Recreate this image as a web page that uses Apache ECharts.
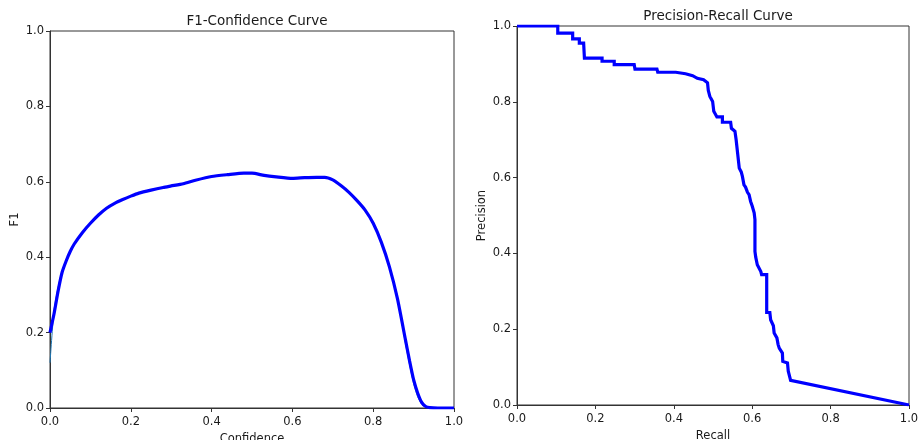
<!DOCTYPE html>
<html>
<head>
<meta charset="utf-8">
<title>F1 / PR curves</title>
<script src="https://cdn.jsdelivr.net/npm/echarts@6/dist/echarts.min.js"></script>
<style>
  html, body { margin: 0; padding: 0; background: #fff; }
  #main { width: 918px; height: 440px; }
</style>
</head>
<body>
<div id="main"></div>
<script>
// F1-Confidence, all classes (thick) and single class (thin)
var confX = [0, 0.01, 0.02, 0.03, 0.04, 0.05, 0.06, 0.08, 0.10, 0.12,
             0.14, 0.16, 0.18, 0.20, 0.22, 0.25, 0.28, 0.30, 0.33, 0.36,
             0.40, 0.44, 0.48, 0.50, 0.53, 0.56, 0.60, 0.63, 0.66, 0.68,
             0.70, 0.72, 0.74, 0.76, 0.78, 0.80, 0.82, 0.84, 0.86, 0.88,
             0.89, 0.90, 0.91, 0.92, 0.93, 0.94, 0.96, 1.0];
var f1All = [0.20, 0.25, 0.31, 0.36, 0.39, 0.415, 0.435, 0.465, 0.49, 0.512,
             0.53, 0.543, 0.553, 0.562, 0.57, 0.578, 0.585, 0.589, 0.595, 0.604,
             0.614, 0.619, 0.623, 0.623, 0.617, 0.613, 0.609, 0.611, 0.612, 0.612,
             0.605, 0.59, 0.572, 0.55, 0.525, 0.49, 0.44, 0.375, 0.29, 0.18,
             0.125, 0.075, 0.04, 0.015, 0.004, 0.001, 0, 0];
var f1Class = [0.12, 0.26, 0.32, 0.365, 0.392, 0.415, 0.435, 0.465, 0.49, 0.512,
             0.53, 0.543, 0.553, 0.562, 0.57, 0.578, 0.585, 0.589, 0.595, 0.604,
             0.614, 0.619, 0.623, 0.623, 0.617, 0.613, 0.609, 0.611, 0.612, 0.612,
             0.605, 0.59, 0.572, 0.55, 0.525, 0.49, 0.44, 0.375, 0.295, 0.17,
             0.115, 0.065, 0.03, 0.01, 0.002, 0, 0, 0];

// Precision-Recall
var recall = [0, 0.104, 0.104, 0.142, 0.142, 0.159, 0.159, 0.170, 0.172, 0.217,
              0.217, 0.248, 0.248, 0.299, 0.301, 0.357, 0.359, 0.405, 0.43, 0.448,
              0.46, 0.476, 0.486, 0.488, 0.492, 0.495, 0.499, 0.502, 0.51, 0.524,
              0.524, 0.545, 0.547, 0.556, 0.559, 0.561, 0.567, 0.572, 0.575, 0.579,
              0.583, 0.588, 0.592, 0.596, 0.600, 0.605, 0.607, 0.607, 0.609, 0.613,
              0.618, 0.622, 0.624, 0.631, 0.637, 0.637, 0.645, 0.647, 0.654, 0.656,
              0.663, 0.666, 0.669, 0.677, 0.678, 0.690, 0.692, 0.698, 1.0];
var precision = [1, 1, 0.981, 0.981, 0.966, 0.966, 0.955, 0.955, 0.915, 0.915,
              0.907, 0.907, 0.898, 0.898, 0.886, 0.886, 0.878, 0.878, 0.874, 0.869,
              0.862, 0.858, 0.85, 0.83, 0.814, 0.81, 0.801, 0.775, 0.76, 0.76,
              0.746, 0.746, 0.73, 0.722, 0.70, 0.696, 0.625, 0.615, 0.603, 0.581,
              0.575, 0.561, 0.555, 0.537, 0.525, 0.507, 0.489, 0.405, 0.39, 0.37,
              0.37, 0.352, 0.344, 0.344, 0.344, 0.244, 0.244, 0.225, 0.209, 0.19,
              0.177, 0.16, 0.15, 0.137, 0.115, 0.111, 0.089, 0.065, 0.0];

function zip(a, b) {
    var out = [];
    for (var i = 0; i < a.length; i++) out.push([a[i], b[i]]);
    return out;
}

var font = 'DejaVu Sans';
var txt = '#1a1a1a';

function valAxis(gridIndex, name, isY, gap) {
    return {
        type: 'value',
        gridIndex: gridIndex,
        min: 0, max: 1, interval: 0.2,
        name: name,
        nameLocation: 'middle',
        nameGap: gap,
        nameTextStyle: { fontFamily: font, fontSize: 11.5, color: txt },
        axisLine: { show: true, onZero: false, lineStyle: { color: '#333', width: 1 } },
        axisTick: { show: true, length: 4, inside: false, lineStyle: { color: '#333' } },
        axisLabel: {
            fontFamily: font, fontSize: 11.5, color: txt, margin: isY ? 6 : 8,
            formatter: function (v) { return v.toFixed(1); }
        },
        splitLine: { show: false }
    };
}

var chart = echarts.init(document.getElementById('main'), null, { renderer: 'canvas' });

var option = {
    backgroundColor: '#fff',
    animation: false,
    title: [
        { text: 'F1-Confidence Curve', left: 252, top: 9, textAlign: 'center',
          textStyle: { fontFamily: font, fontSize: 13.5, fontWeight: 'normal', color: txt } },
        { text: 'Precision-Recall Curve', left: 713, top: 4, textAlign: 'center',
          textStyle: { fontFamily: font, fontSize: 13.5, fontWeight: 'normal', color: txt } }
    ],
    grid: [
        { left: 50, top: 31, width: 404, height: 377, outerBoundsMode: 'none', containLabel: false,
          show: true, borderColor: '#333', borderWidth: 1, backgroundColor: '#fff' },
        { left: 517, top: 26, width: 392, height: 379, outerBoundsMode: 'none', containLabel: false,
          show: true, borderColor: '#333', borderWidth: 1, backgroundColor: '#fff' }
    ],
    xAxis: [valAxis(0, 'Confidence', false, 20), valAxis(1, 'Recall', false, 21)],
    yAxis: [valAxis(0, 'F1', true, 29), valAxis(1, 'Precision', true, 29)],
    series: [
        {
            type: 'line', xAxisIndex: 0, yAxisIndex: 0,
            data: zip(confX, f1Class), showSymbol: false, smooth: 0.2,
            lineStyle: { color: '#1f77b4', width: 1 }, z: 2
        },
        {
            type: 'line', xAxisIndex: 0, yAxisIndex: 0,
            data: zip(confX, f1All), showSymbol: false, smooth: 0.2,
            lineStyle: { color: '#0000ff', width: 3.2 }, z: 3
        },
        {
            type: 'line', xAxisIndex: 1, yAxisIndex: 1,
            data: zip(recall, precision), showSymbol: false,
            lineStyle: { color: '#0000ff', width: 3.2, join: 'miter' }, z: 3
        }
    ]
};

chart.setOption(option);
</script>
</body>
</html>
